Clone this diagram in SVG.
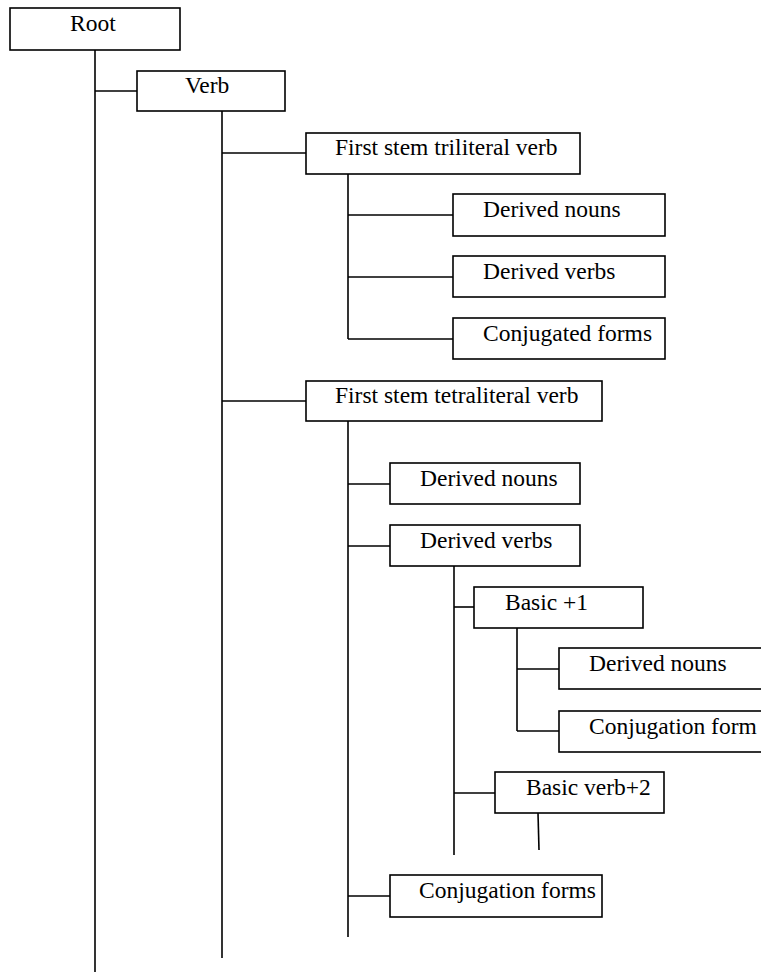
<svg xmlns="http://www.w3.org/2000/svg" width="761" height="975" viewBox="0 0 761 975">
<style>
.box{fill:#fff;stroke:#000;stroke-width:1.6}
.ln{stroke:#000;stroke-width:1.6;fill:none}
.t{font-family:"Liberation Serif","Times New Roman",serif;font-size:23.5px;fill:#000}
</style>
<rect width="761" height="975" fill="#fff"/>
<g id="connectors">
<line class="ln" x1="95" y1="50" x2="95" y2="972"/>
<line class="ln" x1="95" y1="91" x2="137" y2="91"/>
<line class="ln" x1="222" y1="111" x2="222" y2="958"/>
<line class="ln" x1="222" y1="153" x2="306" y2="153"/>
<line class="ln" x1="222" y1="401" x2="306" y2="401"/>
<line class="ln" x1="348" y1="174" x2="348" y2="339"/>
<line class="ln" x1="348" y1="215" x2="453" y2="215"/>
<line class="ln" x1="348" y1="277" x2="453" y2="277"/>
<line class="ln" x1="348" y1="339" x2="453" y2="339"/>
<line class="ln" x1="348" y1="421" x2="348" y2="937"/>
<line class="ln" x1="348" y1="484" x2="390" y2="484"/>
<line class="ln" x1="348" y1="546" x2="390" y2="546"/>
<line class="ln" x1="348" y1="896" x2="390" y2="896"/>
<line class="ln" x1="454" y1="566" x2="454" y2="855"/>
<line class="ln" x1="454" y1="607" x2="474" y2="607"/>
<line class="ln" x1="454" y1="793" x2="495" y2="793"/>
<line class="ln" x1="517" y1="628" x2="517" y2="731"/>
<line class="ln" x1="517" y1="669" x2="559" y2="669"/>
<line class="ln" x1="517" y1="731" x2="559" y2="731"/>
<line class="ln" x1="538" y1="813" x2="539" y2="850"/>
</g>
<g id="root"><rect class="box" x="10" y="8" width="170" height="42"/><text class="t" x="70" y="31">Root</text></g>
<g id="verb"><rect class="box" x="137" y="71" width="148" height="40"/><text class="t" x="185" y="93">Verb</text></g>
<g id="tri"><rect class="box" x="306" y="133" width="274" height="41"/><text class="t" x="335" y="155">First stem triliteral verb</text></g>
<g id="tri-nouns"><rect class="box" x="453" y="194" width="212" height="42"/><text class="t" x="483" y="217">Derived nouns</text></g>
<g id="tri-verbs"><rect class="box" x="453" y="256" width="212" height="41"/><text class="t" x="483" y="279">Derived verbs</text></g>
<g id="tri-conj"><rect class="box" x="453" y="318" width="212" height="41"/><text class="t" x="483" y="341">Conjugated forms</text></g>
<g id="tetra"><rect class="box" x="306" y="381" width="296" height="40"/><text class="t" x="335" y="403">First stem tetraliteral verb</text></g>
<g id="tetra-nouns"><rect class="box" x="390" y="463" width="190" height="41"/><text class="t" x="420" y="486">Derived nouns</text></g>
<g id="tetra-verbs"><rect class="box" x="390" y="525" width="190" height="41"/><text class="t" x="420" y="548">Derived verbs</text></g>
<g id="basic1"><rect class="box" x="474" y="587" width="169" height="41"/><text class="t" x="505" y="610">Basic +1</text></g>
<g id="b1-nouns"><rect class="box" x="559" y="648" width="210" height="41"/><text class="t" x="589" y="671">Derived nouns</text></g>
<g id="b1-conj"><rect class="box" x="559" y="711" width="210" height="41"/><text class="t" x="589" y="734">Conjugation form</text></g>
<g id="basic2"><rect class="box" x="495" y="772" width="169" height="41"/><text class="t" x="526" y="795">Basic verb+2</text></g>
<g id="tetra-conj"><rect class="box" x="390" y="875" width="212" height="42"/><text class="t" x="419" y="898">Conjugation forms</text></g>
</svg>
